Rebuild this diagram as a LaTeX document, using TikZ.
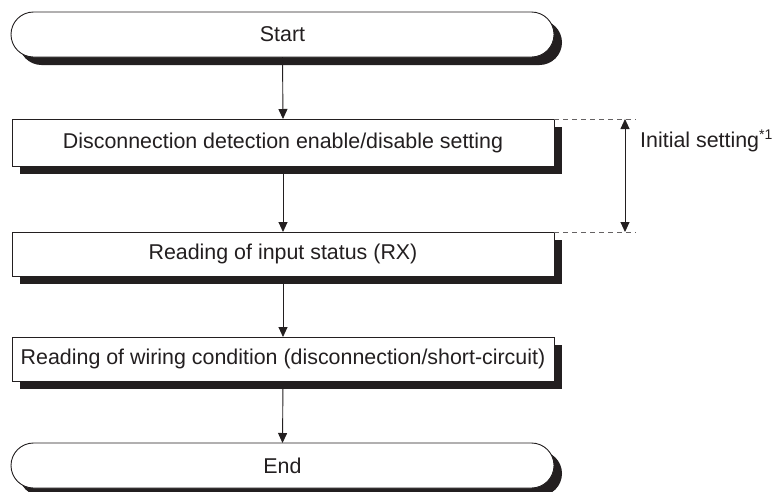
\documentclass[tikz,border=0pt]{standalone}
\usepackage{fontspec}
\setmainfont{Liberation Sans}
\usetikzlibrary{arrows.meta,shapes.misc,shadows}
\definecolor{ink}{HTML}{231F20}
\tikzset{
  base/.style={draw=ink, line width=0.9pt, fill=white, inner sep=0pt, outer sep=0pt,
    text=ink, font=\fontsize{21.4}{25}\selectfont,
    general shadow={shadow xshift=8pt, shadow yshift=-8pt, fill=ink}},
  term/.style={base, rounded rectangle, minimum width=543pt, minimum height=45pt},
  stepbox/.style={base, rectangle, minimum width=542pt},
  arr/.style={draw=ink, line width=0.9pt, -{Triangle[width=9pt,length=10pt]}},
  dimarr/.style={draw=ink, line width=0.9pt, {Triangle[width=9pt,length=10pt]}-{Triangle[width=9pt,length=10pt]}},
  guide/.style={draw=ink!70, line width=0.9pt, dash pattern=on 5pt off 4pt}
}
\begin{document}
\begin{tikzpicture}[x=1pt,y=-1pt]
\useasboundingbox (0,0) rectangle (772,491);
\node[term] (start) at (282.5,34.5) {Start};
\node[stepbox, minimum height=47pt] (b1) at (283,142.5) {Disconnection detection enable/disable setting};
\node[stepbox, minimum height=44pt] (b2) at (283,254) {Reading of input status (RX)};
\node[stepbox, minimum height=44pt] (b3) at (283,359) {Reading of wiring condition (disconnection/short-circuit)};
\node[term] (end) at (282.5,465.5) {End};
\draw[arr] (start.south) -- (b1.north);
\draw[arr] (b1.south) -- (b2.north);
\draw[arr] (b2.south) -- (b3.north);
\draw[arr] (b3.south) -- (end.north);
\draw[guide] (b1.north east) -- ++(82,0) coordinate (t1);
\draw[guide] (b2.north east) -- ++(82,0) coordinate (t2);
\coordinate (a1) at ([xshift=-11pt]t1);
\coordinate (a2) at ([xshift=-11pt]t2);
\draw[dimarr] (a1) -- (a2);
\node[anchor=west, inner sep=0pt, text=ink, font=\fontsize{21.4}{25}\selectfont] (lbl) at (640,141) {Initial setting\textsuperscript{\fontsize{14}{16}\selectfont *1}};
\end{tikzpicture}
\end{document}
